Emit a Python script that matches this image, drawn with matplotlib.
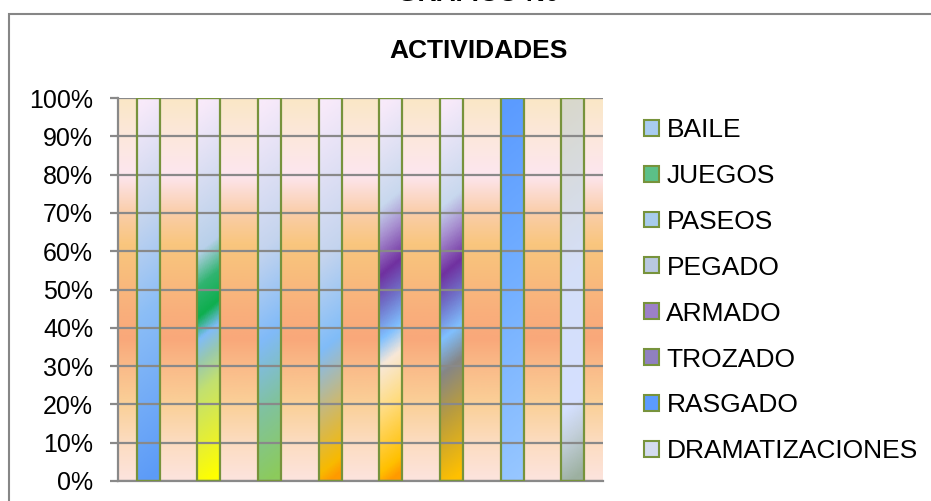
import matplotlib
matplotlib.use('Agg')
import matplotlib.pyplot as plt
import numpy as np
from matplotlib.colors import LinearSegmentedColormap
from matplotlib.patches import Patch, Rectangle

actividades = ['BAILE', 'JUEGOS', 'PASEOS', 'PEGADO', 'ARMADO', 'TROZADO',
               'RASGADO', 'DRAMATIZACIONES']
porcentajes = [100, 100, 100, 100, 100, 100, 100, 100]
y_ticks = [0, 10, 20, 30, 40, 50, 60, 70, 80, 90, 100]

# color stops bottom (0) -> top (1) for every bar
bar_stops = [
    [(0, '#5C9BF8'), (0.45, '#8CBEF6'), (0.7, '#C4D4EE'), (1, '#F8EAFA')],
    [(0, '#FFFF00'), (0.1, '#E8F030'), (0.25, '#C2E070'), (0.33, '#98C8B0'),
     (0.39, '#80BCF8'), (0.45, '#0EAE4E'), (0.53, '#30B470'), (0.62, '#B8D0EA'),
     (1, '#F8EAFA')],
    [(0, '#8CCB5C'), (0.2, '#80C2A0'), (0.38, '#80BAF8'), (0.62, '#C4D4EE'),
     (1, '#F8EAFA')],
    [(0, '#FF9A00'), (0.04, '#F8BA00'), (0.2, '#C8B878'), (0.36, '#80BCF8'),
     (0.6, '#C4D4EE'), (1, '#F8EAFA')],
    [(0, '#FF9A00'), (0.04, '#FFC000'), (0.2, '#FFDC80'), (0.32, '#F8E8D8'),
     (0.39, '#80C0FF'), (0.48, '#7070C8'), (0.56, '#7030A0'), (0.66, '#A890D0'),
     (0.74, '#C8D8EE'), (1, '#F8EAFA')],
    [(0, '#FFC000'), (0.18, '#B89C40'), (0.3, '#868686'), (0.39, '#80C0FF'),
     (0.48, '#7070C8'), (0.56, '#7030A0'), (0.66, '#A890D0'), (0.74, '#C8D8EE'),
     (1, '#F8EAFA')],
    [(0, '#96C6FF'), (0.5, '#74B0FF'), (1, '#5B9BFF')],
    [(0, '#9CB0A0'), (0.12, '#C4D0DC'), (0.2, '#D4E0FF'), (0.55, '#D5DFF8'),
     (1, '#D9D8CC')],
]
legend_colors = ['#A8CCF0', '#5CC088', '#A8CCEC', '#B8C8E0', '#9C80C8',
                 '#9080C0', '#5B9BFF', '#D4DCF0']

bg_stops = [(0, '#FDE4DE'), (0.1, '#FCDCC0'), (0.2, '#FAD098'), (0.3, '#FABA88'),
            (0.37, '#F9A87A'), (0.45, '#F9B07C'), (0.55, '#F8BE7C'),
            (0.62, '#F9C67E'), (0.7, '#FACDA8'), (0.8, '#FDE6EF'),
            (0.9, '#FCE8DC'), (1, '#FAE7C6')]

fig = plt.figure(figsize=(9.31, 5.01), dpi=100)
ax = fig.add_axes([118 / 931, 1 - 481 / 501, 485 / 931, 383 / 501])

# chart frame (cut off by the picture edges)
fig.patches.append(Rectangle((9 / 931, -0.2), 2, 1.2 - 14 / 501, transform=fig.transFigure,
                             fill=False, edgecolor='#868686', linewidth=1.5))

x = np.arange(len(actividades))

bg = LinearSegmentedColormap.from_list('bg', bg_stops)
ax.imshow(np.linspace(0, 1, 256).reshape(-1, 1), cmap=bg, origin='lower', aspect='auto',
          extent=(-0.5, len(actividades) - 0.5, 0, 100), zorder=0)

bars = ax.bar(x, porcentajes, width=0.38, facecolor='none', edgecolor='#77933C',
              linewidth=1.6, zorder=3)

yy = np.linspace(0, 1, 300).reshape(-1, 1)
xx = np.linspace(0, 1, 30).reshape(1, -1)
for bar, stops in zip(bars, bar_stops):
    cmap = LinearSegmentedColormap.from_list('b', stops)
    t = np.clip(yy - 0.05 * (xx - 0.5), 0, 1)
    x0 = bar.get_x()
    im = ax.imshow(t, cmap=cmap, vmin=0, vmax=1, origin='lower', aspect='auto',
                   extent=(x0, x0 + bar.get_width(), 0, bar.get_height()), zorder=2)
    im.set_clip_path(bar)

ax.set_xlim(-0.5, len(actividades) - 0.5)
ax.set_ylim(0, 100)

ax.set_yticks(y_ticks)
ax.set_yticklabels([f'{v}%' for v in y_ticks])
ax.set_xticks([])
ax.grid(axis='y', color='#898989', linewidth=1.6, zorder=1)
ax.set_axisbelow(False)
for s in ['top', 'right']:
    ax.spines[s].set_visible(False)
for s in ['left', 'bottom']:
    ax.spines[s].set_color('#898989')
    ax.spines[s].set_linewidth(1.6)
ax.tick_params(axis='y', length=6, width=1.6, color='#898989', pad=12,
               labelsize=18)
for lab in ax.get_yticklabels():
    lab.set_fontfamily('Liberation Sans')

fig.text(0.514, 1 - 51 / 501, 'ACTIVIDADES', ha='center', va='center', fontsize=19,
         fontweight='bold', family='Liberation Sans')
# top title, cut off by the image border as in the original
fig.text(0.514, 1 - 6 / 501, 'GRAFICO N0', ha='center', va='bottom', fontsize=19,
         fontweight='bold', family='Liberation Sans')

handles = [Patch(facecolor=c, edgecolor='#77933C', linewidth=1.5) for c in legend_colors]
fig.legend(handles, actividades, loc='upper left', bbox_to_anchor=(644 / 931, 1 - 118 / 501),
           frameon=False, prop={'family': 'Liberation Sans', 'size': 19},
           handlelength=0.55, handleheight=0.55, handletextpad=0.3, labelspacing=0.83,
           borderpad=0, borderaxespad=0)

fig.savefig('out.png', dpi=100)
